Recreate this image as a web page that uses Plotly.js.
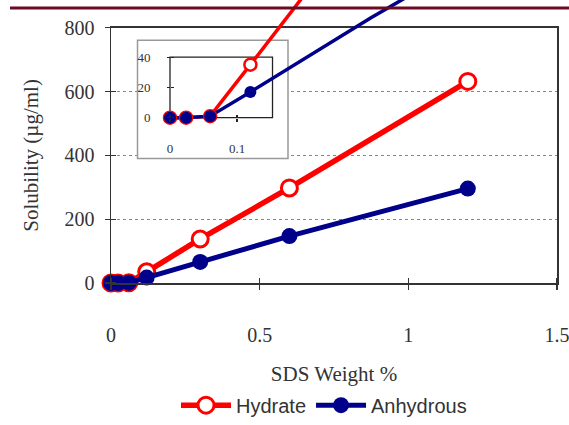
<!DOCTYPE html>
<html><head><meta charset="utf-8">
<script src="https://cdn.plot.ly/plotly-3.0.1.min.js"></script>
<style>html,body{margin:0;padding:0;background:#fff}#chart{width:569px;height:425px}</style>
</head><body><div id="chart"></div>
<script>
// ---- data ----
const sdsWeight = [0, 0.024, 0.06, 0.12, 0.3, 0.6, 1.2];
const hydrate   = [0, 0, 1, 35, 138, 298, 632];
const anhydrous = [0, 0, 1, 17, 66, 147, 296];
const seriesNames = ['Hydrate', 'Anhydrous'];
const xTicks = [0, 0.5, 1, 1.5];
const yTicks = [0, 200, 400, 600, 800];
const insetXTicks = [0, 0.1];
const insetYTicks = [0, 20, 40];
const insetXMax = 0.153, insetYMax = 40;

// ---- geometry helpers ----
const W = 569, H = 425, M = {l: 111, r: 12, t: 0, b: 140, pad: 0};
const PW = W - M.l - M.r, PH = H - M.t - M.b;
const px2x = p => (p - M.l) / PW;
const py2y = p => (H - M.b - p) / PH;
const ix0 = 170, ixs = 670, iy0 = 118.5, iys = 1.525;
const ipx2v = p => (p - ix0) / ixs;
const ipy2v = p => (iy0 - p) / iys;

const RED = '#ff0000', BLUE = '#00008b';
const serif = 'Liberation Serif, Times New Roman, serif';
const sans = 'Liberation Sans, Arial, sans-serif';

function inInset(x, y) { return x <= insetXMax && y <= insetYMax; }
const hydIn = sdsWeight.map((x, i) => [x, hydrate[i]]).filter(d => inInset(d[0], d[1]));
const anhIn = sdsWeight.map((x, i) => [x, anhydrous[i]]).filter(d => inInset(d[0], d[1]));

const traces = [
  {x: sdsWeight, y: hydrate, name: seriesNames[0], mode: 'lines+markers', xaxis: 'x', yaxis: 'y',
   line: {color: RED, width: 5.5}, marker: {symbol: 'circle', size: 16, color: '#fff', line: {color: RED, width: 3}}, cliponaxis: false},
  {x: sdsWeight, y: anhydrous, name: seriesNames[1], mode: 'lines+markers', xaxis: 'x', yaxis: 'y',
   line: {color: BLUE, width: 5}, marker: {symbol: 'circle', size: 16, color: BLUE}, cliponaxis: false},
  {x: sdsWeight, y: hydrate, mode: 'lines', xaxis: 'x2', yaxis: 'y2', showlegend: false,
   line: {color: RED, width: 3.5}},
  {x: sdsWeight, y: anhydrous, mode: 'lines', xaxis: 'x2', yaxis: 'y2', showlegend: false,
   line: {color: BLUE, width: 3.5}},
  {x: hydIn.map(d => d[0]), y: hydIn.map(d => d[1]), mode: 'markers', xaxis: 'x2', yaxis: 'y2', showlegend: false,
   marker: {symbol: 'circle', size: 12, color: '#fff', line: {color: RED, width: 2.5}}, cliponaxis: false},
  {x: anhIn.map(d => d[0]), y: anhIn.map(d => d[1]), mode: 'markers', xaxis: 'x2', yaxis: 'y2', showlegend: false,
   marker: {symbol: 'circle', size: 12, color: BLUE}, cliponaxis: false}
];

const axisCommon = {showline: true, mirror: true, linecolor: '#333', linewidth: 1.5, zeroline: false,
  ticks: 'outside', ticklen: 5, tickwidth: 1.3, tickcolor: '#333', tickfont: {family: serif, size: 20, color: '#333'}};

const layout = {
  width: W, height: H, margin: M,
  paper_bgcolor: '#fff', plot_bgcolor: 'rgba(0,0,0,0)',
  showlegend: true,
  xaxis: Object.assign({}, axisCommon, {
    domain: [0, 1], range: [0, 1.5], tickvals: xTicks, ticktext: xTicks.map(String), showgrid: false,
    ticklabelstandoff: 28, ticklabeloverflow: 'allow',
    minor: {tickvals: xTicks, ticks: 'inside', ticklen: 5, tickwidth: 1.3, tickcolor: '#333', showgrid: false},
    title: {text: 'SDS Weight %', font: {family: serif, size: 21, color: '#333'}, standoff: 22}
  }),
  yaxis: Object.assign({}, axisCommon, {
    domain: [0, py2y(28)], range: [0, 800], tickvals: yTicks, ticktext: yTicks.map(String),
    showgrid: true, gridcolor: '#888', griddash: 'dot', gridwidth: 1,
    ticklabelstandoff: 6,
    minor: {tickvals: yTicks, ticks: 'inside', ticklen: 5, tickwidth: 1.3, tickcolor: '#333', showgrid: false},
    title: {text: 'Solubility (µg/ml)', font: {family: serif, size: 21, color: '#333'}, standoff: 20}
  }),
  xaxis2: {
    anchor: 'free', position: py2y(iy0), domain: [px2x(134), 1], range: [ipx2v(134), ipx2v(W - M.r)],
    showline: false, showgrid: false, zeroline: false, tickvals: insetXTicks, ticktext: ['0', '0.1'],
    ticks: 'outside', ticklen: 3, tickwidth: 1.2, tickcolor: '#222',
    minor: {tickvals: insetXTicks, ticks: 'inside', ticklen: 3, tickwidth: 1.2, tickcolor: '#222', showgrid: false},
    ticklabelstandoff: 16, tickfont: {family: serif, size: 13, color: '#333'}
  },
  yaxis2: {
    anchor: 'free', position: px2x(ix0), domain: [py2y(163), 1], range: [ipy2v(163), ipy2v(0)],
    showline: false, showgrid: false, zeroline: false, tickvals: insetYTicks, ticktext: insetYTicks.map(String),
    ticks: 'outside', ticklen: 3, tickwidth: 1.2, tickcolor: '#222',
    minor: {tickvals: insetYTicks, ticks: 'inside', ticklen: 3, tickwidth: 1.2, tickcolor: '#222', showgrid: false},
    ticklabelstandoff: 14, tickfont: {family: serif, size: 13, color: '#333'}
  },
  shapes: [
    {type: 'rect', xref: 'x2', yref: 'y2', layer: 'below', x0: ipx2v(137.5), x1: ipx2v(288), y0: ipy2v(159.5), y1: ipy2v(40.5),
     fillcolor: '#fff', line: {color: '#999', width: 1.5}},
    {type: 'rect', xref: 'x2', yref: 'y2', layer: 'below', x0: 0, x1: insetXMax, y0: 0, y1: insetYMax,
     fillcolor: 'rgba(0,0,0,0)', line: {color: '#222', width: 1.3}},
    {type: 'line', xref: 'paper', yref: 'paper', layer: 'above', x0: px2x(10), x1: px2x(W), y0: py2y(8), y1: py2y(8),
     line: {color: '#6a0a24', width: 3}}
  ],
  legend: {orientation: 'h', x: px2x(324), xanchor: 'center', y: py2y(408), yanchor: 'middle',
    font: {family: sans, size: 20, color: '#333'}, bgcolor: 'rgba(0,0,0,0)', itemwidth: 50, tracegroupgap: 0},
  hovermode: false
};

Plotly.newPlot('chart', traces, layout, {staticPlot: true, displayModeBar: false});
</script>
</body></html>
